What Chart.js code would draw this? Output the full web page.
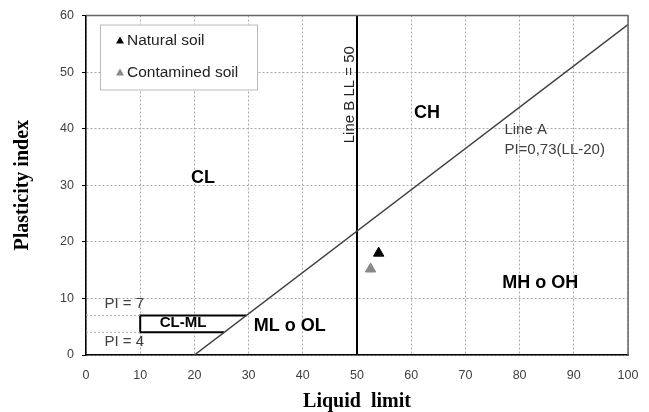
<!DOCTYPE html>
<html lang="en">
<head>
    <meta charset="UTF-8">
    <title>Plasticity chart</title>
    <style>
        body { margin: 0; background: #fff; }
        .chart-container { width: 649px; height: 412px; }
    </style>
    <script src="https://cdn.jsdelivr.net/npm/chart.js"></script>
</head>
<body>
    <div class="chart-container">
        <canvas id="plasticityChart" width="649" height="412"></canvas>
    </div>
    <script>
        // soil samples
        const naturalSoil = [{ x: 54, y: 18 }];
        const contaminedSoil = [{ x: 52.5, y: 15.2 }];

        // Casagrande lines
        const lineA = [{ x: 20, y: 0 }, { x: 100, y: 58.4 }];
        const lineB = [{ x: 50, y: 0 }, { x: 50, y: 60 }];
        const clmlBox = [{ x: 25.5, y: 4 }, { x: 10, y: 4 }, { x: 10, y: 7 }, { x: 29.6, y: 7 }];
        const pi7Guide = [{ x: 0, y: 7 }, { x: 10, y: 7 }];
        const pi4Guide = [{ x: 0, y: 4 }, { x: 10, y: 4 }];

        const xTicks = [0, 10, 20, 30, 40, 50, 60, 70, 80, 90, 100];
        const yTicks = [0, 10, 20, 30, 40, 50, 60];

        const SANS = '"Liberation Sans", Arial, sans-serif';
        const SERIF = '"Liberation Serif", "Times New Roman", serif';

        // zone labels: [text, x, y, font, colour, align]
        const zoneLabels = [
            ['CL', 21.6, 31.3, 'bold 18px ' + SANS, '#000', 'center'],
            ['CH', 62.9, 42.8, 'bold 18px ' + SANS, '#000', 'center'],
            ['MH o OH', 83.8, 12.7, 'bold 18px ' + SANS, '#000', 'center'],
            ['ML o OL', 37.6, 5.1, 'bold 18px ' + SANS, '#000', 'center'],
            ['CL-ML', 17.9, 5.6, 'bold 15px ' + SANS, '#000', 'center'],
            ['PI = 7', 3.4, 9.0, '15px ' + SANS, '#404040', 'left'],
            ['PI = 4', 3.4, 2.3, '15px ' + SANS, '#404040', 'left'],
            ['Line A', 77.2, 39.8, '15px ' + SANS, '#404040', 'left'],
            ['PI=0,73(LL-20)', 77.2, 36.2, '15px ' + SANS, '#404040', 'left']
        ];

        const labelPlugin = {
            id: 'zoneLabels',
            afterDatasetsDraw(chart) {
                const ctx = chart.ctx;
                const xs = chart.scales.x, ys = chart.scales.y;
                const area = chart.chartArea;
                ctx.save();
                // top and right frame
                ctx.strokeStyle = '#666';
                ctx.lineWidth = 1.5;
                ctx.beginPath();
                ctx.moveTo(area.left, area.top);
                ctx.lineTo(area.right, area.top);
                ctx.lineTo(area.right, area.bottom);
                ctx.stroke();

                ctx.textBaseline = 'middle';
                zoneLabels.forEach(l => {
                    ctx.font = l[3];
                    ctx.fillStyle = l[4];
                    ctx.textAlign = l[5];
                    ctx.fillText(l[0], xs.getPixelForValue(l[1]), ys.getPixelForValue(l[2]));
                });

                // rotated Line B label
                ctx.save();
                ctx.translate(xs.getPixelForValue(48.6), ys.getPixelForValue(46));
                ctx.rotate(-Math.PI / 2);
                ctx.font = '15px ' + SANS;
                ctx.fillStyle = '#222';
                ctx.textAlign = 'center';
                ctx.fillText('Line B LL = 50', 0, 0);
                ctx.restore();

                // legend box
                const lx = area.left + 14, ly = area.top + 9, lw = 157, lh = 65;
                ctx.fillStyle = '#fff';
                ctx.fillRect(lx, ly, lw, lh);
                ctx.strokeStyle = '#bbb';
                ctx.lineWidth = 1;
                ctx.strokeRect(lx + 0.5, ly + 0.5, lw, lh);
                const items = [['Natural soil', '#000', ly + 16], ['Contamined soil', '#888', ly + 48]];
                ctx.font = '15.5px ' + SANS;
                ctx.textAlign = 'left';
                items.forEach(it => {
                    ctx.fillStyle = it[1];
                    ctx.beginPath();
                    ctx.moveTo(lx + 20, it[2] - 4);
                    ctx.lineTo(lx + 24, it[2] + 3);
                    ctx.lineTo(lx + 16, it[2] + 3);
                    ctx.closePath();
                    ctx.fill();
                    ctx.fillStyle = '#222';
                    ctx.fillText(it[0], lx + 27, it[2]);
                });
                ctx.restore();
            }
        };

        const lineStyle = (data, color, width, dash) => ({
            data: data,
            showLine: true,
            borderColor: color,
            borderWidth: width,
            borderDash: dash || [],
            pointRadius: 0,
            fill: false
        });

        const ctx = document.getElementById('plasticityChart').getContext('2d');
        new Chart(ctx, {
            type: 'scatter',
            data: {
                datasets: [
                    lineStyle(pi7Guide, '#aaa', 1, [2, 2]),
                    lineStyle(pi4Guide, '#aaa', 1, [2, 2]),
                    lineStyle(lineA, '#404040', 1.5),
                    lineStyle(lineB, '#000', 2),
                    lineStyle(clmlBox, '#000', 2),
                    {
                        label: 'Natural soil',
                        data: naturalSoil,
                        pointStyle: 'triangle',
                        pointRadius: 6,
                        backgroundColor: '#000',
                        borderColor: '#000'
                    },
                    {
                        label: 'Contamined soil',
                        data: contaminedSoil,
                        pointStyle: 'triangle',
                        pointRadius: 6,
                        backgroundColor: '#888',
                        borderColor: '#888'
                    }
                ]
            },
            options: {
                responsive: false,
                animation: false,
                layout: { padding: { top: 14, right: 21, left: 0, bottom: 0 } },
                plugins: { legend: { display: false }, tooltip: { enabled: false } },
                scales: {
                    x: {
                        type: 'linear',
                        min: 0, max: 100,
                        afterBuildTicks: s => { s.ticks = xTicks.map(v => ({ value: v })); },
                        afterFit: s => { s.height = 57; s.paddingRight = 0; s.paddingLeft = 0; },
                        grid: { color: '#aaa', tickLength: 0, drawTicks: false },
                        border: { display: true, color: '#000', width: 1.5, dash: [2, 2] },
                        ticks: { color: '#404040', padding: 13, font: { family: SANS, size: 12.5 } },
                        title: {
                            display: true,
                            text: 'Liquid  limit',
                            color: '#000',
                            padding: { top: 4, bottom: -2 },
                            font: { family: SERIF, size: 20, weight: 'bold' }
                        }
                    },
                    y: {
                        type: 'linear',
                        min: 0, max: 60,
                        afterBuildTicks: s => { s.ticks = yTicks.map(v => ({ value: v })); },
                        afterFit: s => { s.width = 86; },
                        grid: { color: '#aaa', tickLength: 4, tickColor: '#000', tickBorderDash: [] },
                        border: { display: true, color: '#000', width: 1.5, dash: [2, 2] },
                        ticks: { color: '#404040', padding: 8, font: { family: SANS, size: 12.5 } },
                        title: {
                            display: true,
                            text: 'Plasticity index',
                            color: '#000',
                            padding: { top: 11, bottom: 0 },
                            font: { family: SERIF, size: 20, weight: 'bold' }
                        }
                    }
                }
            },
            plugins: [labelPlugin]
        });
    </script>
</body>
</html>
